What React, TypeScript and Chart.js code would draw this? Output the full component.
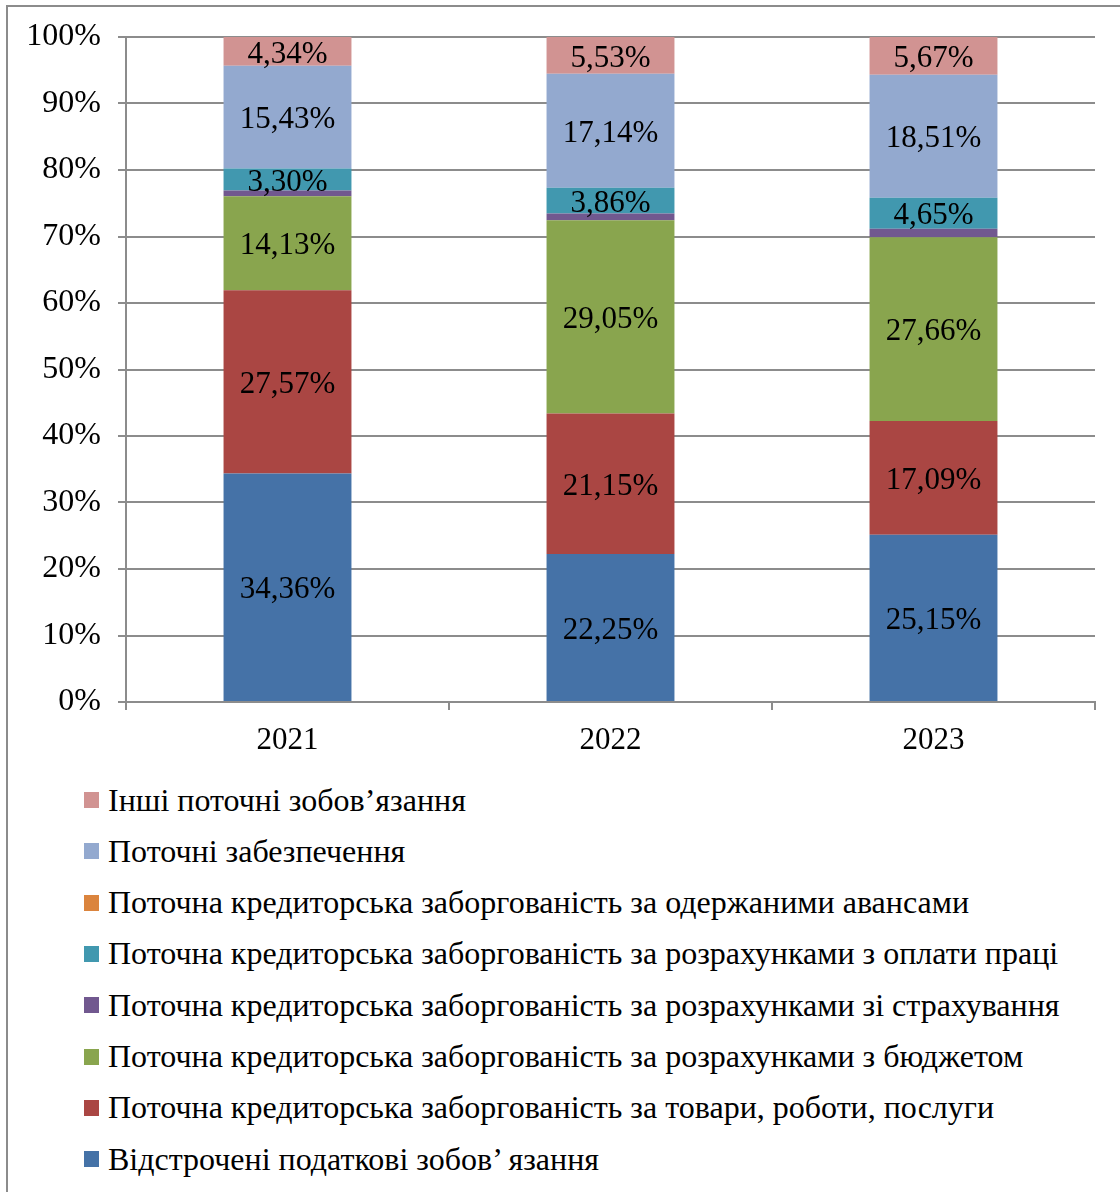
import React, { useEffect, useRef } from 'react';
import { Chart, registerables } from 'chart.js';

Chart.register(...registerables);

const categories = ['2021', '2022', '2023'];

const deferredTax = [34.36, 22.25, 25.15];
const goodsServices = [27.57, 21.15, 17.09];
const budget = [14.13, 29.05, 27.66];
const insurance = [0.87, 1.02, 1.27];
const wages = [3.3, 3.86, 4.65];
const advances = [0, 0, 0];
const provisions = [15.43, 17.14, 18.51];
const otherLiabilities = [4.34, 5.53, 5.67];

const seriesNames = [
  'Відстрочені податкові зобов’ язання',
  'Поточна кредиторська заборгованість за товари, роботи, послуги',
  'Поточна кредиторська заборгованість за розрахунками з бюджетом',
  'Поточна кредиторська заборгованість за розрахунками зі страхування',
  'Поточна кредиторська заборгованість за розрахунками з оплати праці',
  'Поточна кредиторська заборгованість за одержаними авансами',
  'Поточні забезпечення',
  'Інші поточні зобов’язання',
];
const seriesValues = [deferredTax, goodsServices, budget, insurance, wages, advances, provisions, otherLiabilities];
const seriesColors = ['#4572A7', '#AA4643', '#89A54E', '#71588F', '#4198AF', '#DB843D', '#93A9CF', '#D19392'];
const labelMinValue = 2;

const FONT = "'Liberation Serif', 'Times New Roman', serif";
const GRID = '#8c8c8c';

const fmt = (v: number) => v.toFixed(2).replace('.', ',') + '%';

const dataLabels = {
  id: 'dataLabels',
  afterDatasetsDraw(chart: any) {
    const ctx = chart.ctx;
    ctx.save();
    ctx.font = `31px ${FONT}`;
    ctx.fillStyle = '#000';
    ctx.textAlign = 'center';
    ctx.textBaseline = 'middle';
    chart.data.datasets.forEach((ds: any, di: number) => {
      const meta = chart.getDatasetMeta(di);
      meta.data.forEach((el: any, i: number) => {
        const v = ds.data[i];
        if (v < labelMinValue) return;
        const { x, y, base } = el.getProps(['x', 'y', 'base'], true);
        ctx.fillText(fmt(v), x, (y + base) / 2 + 3);
      });
    });
    ctx.restore();
  },
};

export default function App() {
  const ref = useRef<HTMLCanvasElement | null>(null);

  useEffect(() => {
    if (!ref.current) return;
    const chart = new Chart(ref.current, {
      type: 'bar',
      data: {
        labels: categories,
        datasets: seriesNames.map((name, i) => ({
          label: name,
          data: seriesValues[i],
          backgroundColor: seriesColors[i],
          borderWidth: 0,
          categoryPercentage: 0.8,
          barPercentage: 0.495,
        })),
      },
      options: {
        responsive: false,
        animation: false,
        layout: { padding: { top: 37, right: 25, left: 0, bottom: 0 } },
        plugins: { legend: { display: false }, tooltip: { enabled: false } },
        scales: {
          x: {
            stacked: true,
            grid: { drawOnChartArea: false, drawTicks: true, tickLength: 8, color: GRID, lineWidth: 2 },
            border: { display: true, color: GRID, width: 2 },
            ticks: { color: '#000', font: { family: FONT, size: 31 }, padding: 12 },
            afterFit: (s: any) => { s.height = 68; },
          },
          y: {
            stacked: true,
            min: 0,
            max: 100,
            grid: { color: GRID, lineWidth: 2, tickLength: 8 },
            border: { display: true, color: GRID, width: 2 },
            ticks: {
              stepSize: 10,
              color: '#000',
              font: { family: FONT, size: 32 },
              padding: 17,
              callback: (v: any) => v + '%',
            },
            afterFit: (s: any) => { s.width = 126; },
          },
        },
      },
      plugins: [dataLabels],
    });
    return () => chart.destroy();
  }, []);

  const legendItems = seriesNames.map((n, i) => ({ name: n, color: seriesColors[i] })).reverse();

  return (
    <div style={{ position: 'absolute', left: 0, top: 0, width: 1120, height: 1192, background: '#fff' }}>
      <div style={{ position: 'absolute', left: 6, top: 5, width: 1114, height: 1187, borderLeft: `2px solid ${GRID}`, borderTop: `2px solid ${GRID}` }} />
      <canvas ref={ref} width={1120} height={770} style={{ position: 'absolute', left: 0, top: 0, width: 1120, height: 770 }} />
      {legendItems.map((it, i) => (
        <div
          key={i}
          style={{
            position: 'absolute',
            left: 84,
            top: 800 + i * 51.3 - 25,
            height: 50,
            display: 'flex',
            alignItems: 'center',
            whiteSpace: 'nowrap',
            fontFamily: FONT,
            fontSize: 32,
            color: '#000',
          }}
        >
          <span style={{ display: 'inline-block', width: 15, height: 16, background: it.color, marginRight: 9 }} />
          <span>{it.name}</span>
        </div>
      ))}
    </div>
  );
}
